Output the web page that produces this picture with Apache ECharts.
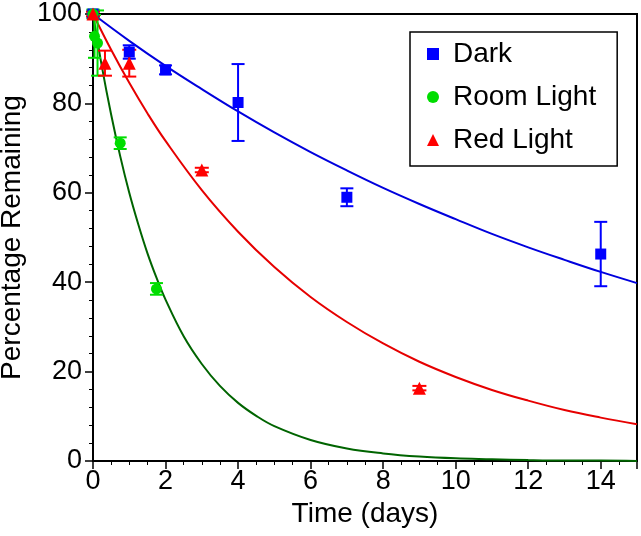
<!DOCTYPE html>
<html>
<head>
<meta charset="utf-8">
<script src="https://cdn.jsdelivr.net/npm/echarts@6/dist/echarts.min.js"></script>
<style>
html,body{margin:0;padding:0;background:#fff;}
#chart{width:641px;height:536px;}
</style>
</head>
<body>
<div id="chart"></div>
<script>
const darkTime  = [0, 1, 2, 4, 7, 14];
const darkValue = [100, 91.5, 87.5, 80.2, 59.0, 46.3];
const darkErr   = [0.8, 1.5, 1.0, 8.6, 2.0, 7.2];

const roomTime  = [0, 0.042, 0.125, 0.75, 1.75];
const roomValue = [100, 95.0, 93.5, 71.1, 38.5];
const roomErr   = [1.0, 4.8, 7.3, 1.3, 1.3];

const redTime   = [0, 0.33, 1, 3, 9];
const redValue  = [100, 89.0, 89.0, 65.1, 16.3];
const redErr    = [0.5, 2.8, 3.0, 0.5, 0.5];

// ---- Fitted curves ----
const darkFitTime  = [0, 1, 2, 3, 4, 5, 6, 7, 8, 9, 10, 11, 12, 13, 14, 15];
const darkFitValue = [100, 94.0, 88.4, 83.2, 78.2, 73.5, 69.1, 65.0, 61.1, 57.5, 54.1, 50.8, 47.8, 45.0, 42.3, 39.8];

const roomFitTime  = [0, 0.25, 0.5, 0.75, 1, 1.25, 1.5, 1.75, 2, 2.5, 3, 3.5, 4, 4.5, 5, 6, 7, 8, 9, 10, 11, 12, 13, 14, 15];
const roomFitValue = [100, 88.0, 77.5, 68.2, 60.0, 52.9, 46.5, 41.0, 36.1, 27.9, 21.7, 16.8, 13.0, 10.1, 7.8, 4.7, 2.8, 1.7, 1.0, 0.6, 0.4, 0.2, 0.1, 0.1, 0.0];

const redFitTime  = [0, 0.5, 1, 1.5, 2, 3, 4, 5, 6, 7, 8, 9, 10, 11, 12, 13, 14, 15];
const redFitValue = [100, 92.0, 84.6, 77.8, 71.6, 60.6, 51.3, 43.4, 36.7, 31.1, 26.3, 22.2, 18.8, 15.9, 13.5, 11.4, 9.7, 8.2];

const xTicks = [0, 2, 4, 6, 8, 10, 12, 14];
const yTicks = [0, 20, 40, 60, 80, 100];

// ---- Build ----
const FONT = "'Liberation Sans', Arial, Helvetica, sans-serif";
const zip = (a, b) => a.map((v, i) => [v, b[i]]);
const errData = (t, v, e) => t.map((x, i) => [x, v[i] - e[i], v[i] + e[i]]);

function errSeries(name, t, v, e, color, capHalf) {
  return {
    type: 'custom',
    name: name + ' err',
    z: 3,
    silent: true,
    data: errData(t, v, e),
    encode: { x: 0, y: [1, 2] },
    renderItem: function (params, api) {
      const x = api.value(0);
      const lo = api.coord([x, api.value(1)]);
      const hi = api.coord([x, api.value(2)]);
      const st = { stroke: color, lineWidth: 2 };
      return {
        type: 'group',
        children: [
          { type: 'line', shape: { x1: lo[0], y1: lo[1], x2: hi[0], y2: hi[1] }, style: st },
          { type: 'line', shape: { x1: lo[0] - capHalf, y1: lo[1], x2: lo[0] + capHalf, y2: lo[1] }, style: st },
          { type: 'line', shape: { x1: hi[0] - capHalf, y1: hi[1], x2: hi[0] + capHalf, y2: hi[1] }, style: st }
        ]
      };
    }
  };
}

function fitSeries(name, t, v, color) {
  return {
    type: 'line',
    name: name + ' fit',
    data: zip(t, v),
    smooth: 0.4,
    showSymbol: false,
    symbol: 'none',
    silent: true,
    z: 2,
    lineStyle: { color: color, width: 2 }
  };
}

function pointSeries(name, t, v, color, symbol, size) {
  return {
    type: 'scatter',
    name: name,
    data: zip(t, v),
    symbol: symbol,
    symbolSize: size,
    itemStyle: { color: color, opacity: 1 },
    z: 4
  };
}

const chart = echarts.init(document.getElementById('chart'), null, { renderer: 'canvas' });
const option = {
  animation: false,
  backgroundColor: '#ffffff',
  grid: {
    left: 93, right: 4, top: 14, bottom: 75,
    containLabel: false,
    outerBoundsMode: 'none',
    show: true, borderColor: '#000', borderWidth: 2, backgroundColor: 'transparent'
  },
  legend: {
    orient: 'vertical',
    left: 410, top: 32,
    padding: [8, 21, 12, 17],
    itemGap: 15,
    itemWidth: 12, itemHeight: 12,
    borderColor: '#000', borderWidth: 1.5,
    backgroundColor: '#fff',
    textStyle: { fontFamily: FONT, fontSize: 28, color: '#000', lineHeight: 28, padding: [0, 0, 0, 9] },
    data: [
      { name: 'Dark', icon: 'rect', itemStyle: { color: '#0000ff', opacity: 1 } },
      { name: 'Room Light', icon: 'circle', itemStyle: { color: '#00dd00', opacity: 1 } },
      { name: 'Red Light', icon: 'triangle', itemStyle: { color: '#ff0000', opacity: 1 } }
    ]
  },
  xAxis: {
    type: 'value',
    min: xTicks[0], max: 15, interval: xTicks[1] - xTicks[0],
    name: 'Time (days)',
    nameLocation: 'middle',
    nameGap: 31,
    nameTextStyle: { fontFamily: FONT, fontSize: 28, color: '#000' },
    axisLine: { show: true, onZero: false, lineStyle: { color: '#000', width: 2 } },
    axisTick: { show: true, inside: false, length: 8, lineStyle: { color: '#000', width: 1.5 } },
    minorTick: { show: true, splitNumber: 4, length: 4, lineStyle: { color: '#000', width: 1 } },
    axisLabel: {
      fontFamily: FONT, fontSize: 27, color: '#000', margin: 7, showMaxLabel: false,
      formatter: v => (xTicks.indexOf(v) >= 0 ? String(v) : '')
    },
    splitLine: { show: false }
  },
  yAxis: {
    type: 'value',
    min: yTicks[0], max: yTicks[yTicks.length - 1], interval: yTicks[1] - yTicks[0],
    name: 'Percentage Remaining',
    nameLocation: 'middle',
    nameGap: 66,
    nameTextStyle: { fontFamily: FONT, fontSize: 28, color: '#000' },
    axisLine: { show: true, onZero: false, lineStyle: { color: '#000', width: 2 } },
    axisTick: { show: true, inside: false, length: 8, lineStyle: { color: '#000', width: 1.5 } },
    minorTick: { show: true, splitNumber: 5, length: 4, lineStyle: { color: '#000', width: 1 } },
    axisLabel: { fontFamily: FONT, fontSize: 27, color: '#000', margin: 11 },
    splitLine: { show: false }
  },
  series: [
    fitSeries('Dark', darkFitTime, darkFitValue, '#0000dd'),
    fitSeries('Room Light', roomFitTime, roomFitValue, '#006400'),
    fitSeries('Red Light', redFitTime, redFitValue, '#e60000'),
    errSeries('Dark', darkTime, darkValue, darkErr, '#0000ff', 6.5),
    errSeries('Room Light', roomTime, roomValue, roomErr, '#00dd00', 6.5),
    errSeries('Red Light', redTime, redValue, redErr, '#ff0000', 7),
    pointSeries('Dark', darkTime, darkValue, '#0000ff', 'rect', 11),
    pointSeries('Room Light', roomTime, roomValue, '#00dd00', 'circle', 11),
    pointSeries('Red Light', redTime, redValue, '#ff0000', 'triangle', 13)
  ]
};
chart.setOption(option);
</script>
</body>
</html>
